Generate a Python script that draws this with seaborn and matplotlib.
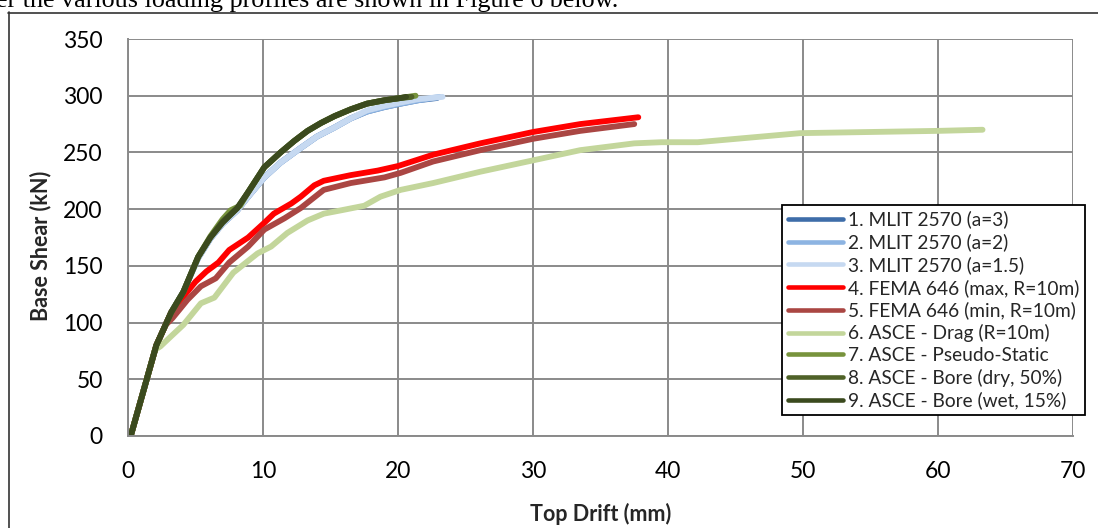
import numpy as np
import pandas as pd
import seaborn as sns
import matplotlib
matplotlib.use("Agg")
import matplotlib.pyplot as plt
from matplotlib.lines import Line2D

# ---------------- data ----------------
labels = [
    "1. MLIT 2570 (a=3)",
    "2. MLIT 2570 (a=2)",
    "3. MLIT 2570 (a=1.5)",
    "4. FEMA 646 (max, R=10m)",
    "5. FEMA 646 (min, R=10m)",
    "6. ASCE - Drag (R=10m)",
    "7. ASCE - Pseudo-Static",
    "8. ASCE - Bore (dry, 50%)",
    "9. ASCE - Bore (wet, 15%)",
]
colors = ["#3E6DA9", "#8DB4E2", "#C6D9F1", "#FF0000", "#AA4643",
          "#C3D69B", "#77933C", "#4F6228", "#3B4A1E"]

mlit3_x = [0.2, 2.1, 3.2, 4.1, 5.2, 6.1, 7.0, 8.1, 8.9, 10.1, 11.3, 12.8, 14.0, 15.3, 16.5, 17.7, 19.0, 20.2, 21.5, 22.9]
mlit3_y = [0, 80, 109, 127, 157, 174, 187, 199, 211, 228, 241, 254, 264, 272, 280, 286, 290, 293, 296, 298]
mlit2_x = [0.2, 2.1, 3.2, 4.1, 5.2, 6.1, 7.0, 8.1, 8.9, 10.1, 11.3, 12.8, 14.0, 15.3, 16.5, 17.7, 19.0, 20.2, 21.5, 23.1]
mlit2_y = [0, 80, 109, 127, 157, 174, 187, 199, 211, 228, 241, 254, 264, 272, 280, 286, 290, 293, 296, 299]
mlit15_x = [0.2, 2.1, 3.2, 4.1, 5.2, 6.1, 7.0, 8.1, 8.9, 10.1, 11.3, 12.8, 14.0, 15.3, 16.5, 17.7, 19.0, 20.2, 21.5, 23.3]
mlit15_y = [0, 80, 109, 127, 157, 174, 187, 199, 211, 228, 241, 254, 264, 272, 280, 287, 291, 294, 297, 299]

fema_max_x = [0.2, 2.1, 3.2, 3.9, 5.0, 5.8, 6.7, 7.5, 8.9, 10.1, 10.8, 12.1, 12.8, 13.8, 14.5, 16.5, 18.5, 20.0, 22.6, 26.1, 30.0, 33.5, 37.8]
fema_max_y = [0, 80, 109, 120, 136, 145, 153, 164, 175, 188, 196, 205, 211, 221, 225, 230, 234, 238, 248, 258, 268, 275, 281]
fema_min_x = [0.2, 2.1, 2.8, 3.3, 4.4, 5.4, 6.5, 7.5, 8.9, 10.1, 11.6, 12.8, 14.5, 16.5, 19.0, 20.2, 22.6, 26.1, 30.0, 33.5, 37.5]
fema_min_y = [0, 80, 98, 104, 120, 132, 139, 153, 167, 182, 192, 201, 217, 223, 228, 232, 242, 252, 262, 269, 275]
drag_x = [0.2, 2.0, 2.4, 3.2, 4.1, 5.4, 6.4, 7.8, 9.6, 10.6, 11.8, 13.3, 14.5, 15.8, 17.5, 18.7, 20.2, 22.6, 26.1, 30.0, 33.5, 37.5, 39.5, 42.2, 49.8, 60.0, 63.3]
drag_y = [0, 76, 79, 88, 98, 117, 122, 144, 161, 167, 179, 190, 196, 199, 203, 211, 217, 223, 233, 243, 252, 258, 259, 259, 267, 269, 270]
pseudo_x = [0.2, 2.1, 3.2, 4.1, 5.2, 6.1, 7.0, 7.6, 8.3, 8.9, 10.1, 11.3, 12.3, 13.3, 14.3, 15.3, 16.5, 17.7, 19.0, 20.2, 21.3]
pseudo_y = [0, 80, 109, 127, 158, 176, 191, 199, 203, 215, 237, 250, 260, 269, 276, 282, 288, 293, 296, 298, 300]
bore_dry_x = [0.2, 2.1, 3.2, 4.1, 5.2, 6.1, 7.0, 8.1, 8.9, 10.1, 11.3, 12.3, 13.3, 14.3, 15.3, 16.5, 17.7, 19.0, 20.2, 21.0]
bore_dry_y = [0, 80, 109, 127, 158, 175, 189, 201, 215, 237, 250, 260, 269, 276, 282, 288, 293, 296, 298, 299]
bore_wet_x = [0.2, 2.1, 3.2, 4.1, 5.2, 6.1, 7.0, 8.1, 8.9, 10.1, 11.3, 12.3, 13.3, 14.3, 15.3, 16.5, 17.7, 19.0, 20.2, 20.6]
bore_wet_y = [0, 80, 109, 127, 158, 175, 188, 201, 215, 237, 250, 260, 269, 276, 282, 288, 293, 296, 298, 299]

series_x = [mlit3_x, mlit2_x, mlit15_x, fema_max_x, fema_min_x, drag_x, pseudo_x, bore_dry_x, bore_wet_x]
series_y = [mlit3_y, mlit2_y, mlit15_y, fema_max_y, fema_min_y, drag_y, pseudo_y, bore_dry_y, bore_wet_y]

x_ticks = [0, 10, 20, 30, 40, 50, 60, 70]
y_ticks = [0, 50, 100, 150, 200, 250, 300, 350]

# ---------------- frame ----------------
frames = []
for lab, xs, ys in zip(labels, series_x, series_y):
    frames.append(pd.DataFrame({"drift": xs, "shear": ys, "series": lab,
                                "order": np.arange(len(xs))}))
df = pd.concat(frames, ignore_index=True)

sns.set_style("white")
plt.rcParams["font.family"] = ["Lato", "DejaVu Sans"]

W, H = 1098, 528
fig = plt.figure(figsize=(W / 100, H / 100), dpi=100)
ax = fig.add_axes([128 / W, 1 - 436 / H, 945 / W, 397 / H])

grid_c = "#8A8A8A"
sns.lineplot(data=df, x="drift", y="shear", hue="series", hue_order=labels,
             palette=dict(zip(labels, colors)), sort=False, estimator=None,
             units="series", linewidth=4.2, legend=False, ax=ax,
             solid_capstyle="round", solid_joinstyle="round")

ax.set_xlim(0, 70)
ax.set_ylim(0, 350)
ax.set_xticks(x_ticks)
ax.set_yticks(y_ticks)
ax.set_xticklabels([str(t) for t in x_ticks])
ax.set_yticklabels([str(t) for t in y_ticks])
ax.grid(True, color=grid_c, linewidth=1.4)
ax.set_axisbelow(True)
for s in ["top", "right"]:
    ax.spines[s].set_visible(False)
for s in ["left", "bottom"]:
    ax.spines[s].set_color(grid_c)
    ax.spines[s].set_linewidth(1.4)
ax.tick_params(axis="both", which="major", direction="out", length=7.2,
               width=1.4, color=grid_c, labelsize=16.5, pad=11, labelcolor="black")
for lab in ax.get_xticklabels() + ax.get_yticklabels():
    lab.set_clip_on(False)

ax.set_xlabel("Top Drift (mm)", fontsize=15.5, fontweight="bold")
ax.set_ylabel("Base Shear (kN)", fontsize=15.5, fontweight="bold")
ax.xaxis.set_label_coords(0.5, (436 - 503) / 397)
ax.yaxis.set_label_coords((51 - 128) / 945, 0.48)

handles = [Line2D([0], [0], color=c, lw=3.3, solid_capstyle="round") for c in colors]
leg = ax.legend(handles, labels, loc="upper left",
                bbox_to_anchor=(782 / W, 1 - 205 / H), bbox_transform=fig.transFigure,
                borderaxespad=0, fontsize=13.8, frameon=True, fancybox=False,
                handlelength=2.9, handletextpad=0.25, labelspacing=0.25,
                borderpad=0.3)
leg.get_frame().set_edgecolor("black")
leg.get_frame().set_linewidth(1.3)
leg.get_frame().set_facecolor("white")
leg.get_frame().set_alpha(1)

# surrounding page elements
fig.add_artist(Line2D([8.5 / W, 8.5 / W], [0, 1 - 12 / H], transform=fig.transFigure,
                      color="#333333", lw=1.2))
fig.add_artist(Line2D([8 / W, 1], [1 - 12.5 / H, 1 - 12.5 / H], transform=fig.transFigure,
                      color="#333333", lw=1.2))
fig.text(-4 / W, 1 - 7 / H, "er the various loading profiles are shown in Figure 6 below.",
         family=["Liberation Serif", "DejaVu Serif"], fontsize=18.8, ha="left",
         va="baseline", color="black")

fig.savefig("out.png", dpi=100)
